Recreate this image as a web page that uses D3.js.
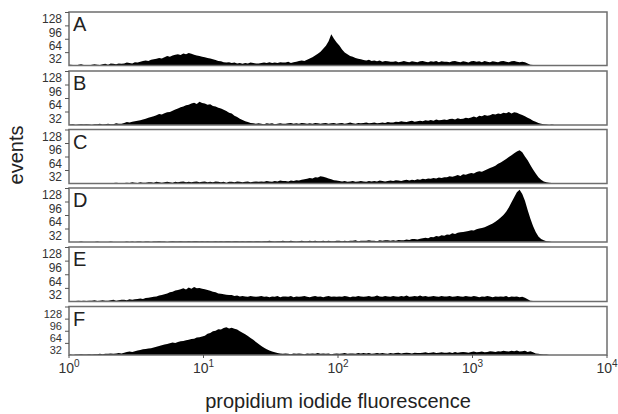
<!DOCTYPE html>
<html>
<head>
<meta charset="utf-8">
<script src="https://cdn.jsdelivr.net/npm/d3@7"></script>
<style>
  body { margin: 0; background: #fff; }
  svg { display: block; font-family: "Liberation Sans", Arial, sans-serif; }
</style>
</head>
<body>
<svg id="chart" width="618" height="414"></svg>
<script>
// histogram counts, 50 log-bins per decade from 10^0 to 10^4 (200 bins per panel)
const panelLabels = ["A", "B", "C", "D", "E", "F"];
const binsPerDecade = 50;

const countsA = [
  2,1,0,2,3,1,1,0,2,3, 2,1,3,4,2,5,4,3,5,4,
  5,7,6,5,8,7,9,11,12,11, 14,15,16,18,17,20,23,21,24,26,
  27,25,29,27,30,28,26,24,23,21, 20,18,17,15,13,11,10,8,7,8,
  6,7,5,6,4,6,5,7,6,5, 5,6,7,6,8,6,7,6,8,7,
  7,9,6,8,9,11,12,11,14,17, 20,24,28,33,40,47,58,75,64,55,
  48,38,31,27,23,21,18,16,15,13, 12,14,11,12,10,12,9,11,10,9,
  9,10,8,9,11,9,8,10,9,8, 10,11,9,8,10,9,11,8,10,9,
  9,8,10,11,9,8,10,9,7,10, 11,9,10,8,11,9,8,10,9,8,
  10,11,9,8,10,11,9,8,9,8, 5,2,1,0,1,0,0,0,0,0,
  0,0,0,0,0,0,0,0,0,0, 0,0,0,0,0,0,0,0,0,0];
const countsB = [
  1,2,0,1,2,1,2,1,0,2, 2,3,1,2,3,2,2,4,3,3,
  5,7,6,8,9,10,11,13,15,17, 19,21,23,26,25,28,30,31,34,37,
  39,42,44,47,48,51,53,50,55,52, 51,48,49,45,44,41,39,36,33,29,
  27,22,19,15,12,9,7,5,4,3, 4,3,2,4,3,4,2,3,4,3,
  3,4,5,3,4,3,5,4,3,4, 3,5,4,3,4,5,3,4,5,3,
  4,5,3,4,6,4,3,5,4,5, 6,4,5,6,4,5,6,5,7,6,
  6,8,7,9,8,7,9,10,8,9, 10,9,11,10,12,10,13,11,12,13,
  12,14,15,13,16,14,15,17,16,18, 20,18,22,21,24,22,23,26,25,27,
  26,29,28,31,27,30,29,26,24,21, 17,14,10,8,5,3,2,1,0,1,
  0,0,0,0,0,0,0,0,0,0, 0,0,0,0,0,0,0,0,0,0];
const countsC = [
  0,0,0,1,1,0,0,0,0,1, 1,0,0,1,1,0,1,2,1,1,
  1,2,1,3,2,1,3,2,2,3, 3,2,4,3,2,3,4,3,2,4,
  3,4,5,3,4,3,4,5,3,4, 5,3,4,3,5,4,3,4,2,4,
  4,3,5,4,3,4,5,3,4,5, 4,5,4,6,5,4,6,5,7,6,
  6,5,7,6,8,7,9,10,11,13, 12,15,14,17,16,14,12,10,8,7,
  6,5,6,4,5,6,4,5,6,5, 4,6,5,6,5,7,6,5,6,7,
  6,8,7,6,8,9,7,9,8,10, 9,11,10,12,11,13,12,14,13,15,
  15,17,16,18,20,18,22,21,23,25, 24,27,29,28,31,34,37,39,42,47,
  50,54,58,63,67,72,76,79,74,64, 55,44,33,24,15,9,5,3,2,1,
  1,0,0,0,0,0,0,0,0,0, 0,0,0,0,0,0,0,0,0,0];
const countsD = [
  0,0,0,0,1,0,0,0,0,0, 1,0,0,0,0,1,0,0,0,0,
  0,1,0,1,0,1,1,0,1,1, 0,1,1,2,1,1,0,1,2,1,
  1,2,1,1,2,1,2,2,1,2, 1,2,1,1,2,1,2,1,2,2,
  1,2,2,1,2,1,2,2,1,2, 2,1,2,2,3,2,1,2,2,3,
  2,2,3,2,1,2,3,2,2,3, 2,3,2,2,3,2,3,2,2,3,
  3,2,3,2,3,3,4,2,3,3, 3,4,3,3,2,4,3,4,4,3,
  4,3,5,4,4,6,5,7,7,6, 8,9,10,9,12,11,14,13,16,15,
  18,17,21,19,22,23,24,25,26,28, 27,30,32,33,35,38,41,44,48,53,
  58,64,72,82,94,106,118,124,114,98, 76,56,38,24,13,7,4,2,1,0,
  0,0,0,0,0,0,0,0,0,0, 0,0,0,0,0,0,0,0,0,0];
const countsE = [
  1,0,1,2,1,2,1,2,2,3, 1,2,3,2,2,3,4,2,3,4,
  4,3,5,4,5,6,7,6,8,9, 10,11,12,14,15,17,19,22,23,26,
  27,29,31,28,33,30,34,31,32,30, 29,27,25,23,22,19,18,17,16,15,
  15,13,14,12,13,12,11,13,12,11, 12,13,11,12,10,12,11,13,10,12,
  12,11,13,10,12,11,12,13,11,10, 12,13,11,12,10,12,13,11,12,11,
  12,11,13,12,10,12,11,13,12,11, 12,13,11,12,14,12,11,13,12,11,
  13,12,11,13,12,14,11,12,13,12, 14,12,13,11,12,13,12,11,13,12,
  12,13,11,12,13,12,11,13,12,11, 13,12,10,12,11,13,12,10,12,11,
  12,11,13,10,12,11,12,10,11,9, 5,2,1,0,1,0,0,0,0,0,
  0,0,0,0,0,0,0,0,0,0, 0,0,0,0,0,0,0,0,0,0];
const countsF = [
  1,0,1,1,2,1,1,2,1,2, 2,3,2,3,3,4,3,4,5,4,
  6,8,9,8,10,12,13,15,16,17, 18,20,22,24,26,28,29,31,33,32,
  34,36,37,39,40,42,43,46,47,49, 51,56,58,63,64,68,67,71,73,70,
  72,69,67,63,59,55,50,45,40,34, 29,24,19,15,12,9,7,5,4,3,
  4,3,2,4,3,4,3,2,4,3, 4,3,5,3,4,3,4,2,3,4,
  3,4,5,3,4,4,3,5,4,5, 4,5,3,4,5,4,5,4,3,5,
  4,5,6,4,5,6,5,4,6,5, 5,6,7,5,6,7,5,6,7,6,
  6,7,5,8,6,7,8,7,6,8, 9,7,8,9,7,8,10,9,8,10,
  9,11,10,9,11,10,12,9,10,11, 8,10,7,4,3,2,1,1,0,0,
  0,0,0,0,0,0,0,0,0,0, 0,0,0,0,0,0,0,0,0,0];

const allCounts = [countsA, countsB, countsC, countsD, countsE, countsF];
const yTicks = [32, 64, 96, 128];
const xTickExp = [0, 1, 2, 3, 4];

const svg = d3.select("#chart");
svg.append("rect").attr("width", 618).attr("height", 414).attr("fill", "#fff");

const x = d3.scaleLog().domain([1, 1e4]).range([69, 607]);

// panel boxes (top, bottom) - the last one is a bit shorter in the original
const boxes = [[12, 65.5], [71, 125], [129.5, 183.5], [188, 242], [247, 301.5], [306.5, 355]];

allCounts.forEach((counts, p) => {
  const [top, bottom] = boxes[p];
  const y = d3.scaleLinear().domain([0, 128]).range([bottom, top]);
  const g = svg.append("g");

  const pts = counts.map((c, i) => [Math.pow(10, (i + 0.5) / binsPerDecade), c]);
  pts.unshift([1, counts[0]]);
  pts.push([1e4, counts[counts.length - 1]]);

  const area = d3.area()
    .x(d => x(d[0]))
    .y0(y(0))
    .y1(d => y(d[1]));

  g.append("path")
    .datum(pts)
    .attr("d", area)
    .attr("fill", "#000");

  g.append("rect")
    .attr("x", x(1)).attr("y", top)
    .attr("width", x(1e4) - x(1)).attr("height", bottom - top)
    .attr("fill", "none")
    .attr("stroke", "#6e6e6e")
    .attr("stroke-width", 1.5);

  const yAxis = d3.axisLeft(y).tickValues(yTicks).tickSize(4).tickPadding(3);
  const ag = g.append("g").attr("transform", `translate(${x(1)},0)`).call(yAxis);
  ag.select(".domain").remove();
  ag.selectAll(".tick line").attr("stroke", "#555");
  ag.selectAll(".tick text")
    .attr("font-size", (bottom - top) < 52 ? 11 : 12)
    .attr("fill", "#333")
    .attr("font-family", "Liberation Sans, Arial, sans-serif")
    .attr("y", 7);

  g.append("text")
    .attr("x", 73).attr("y", top + 19)
    .attr("font-size", 20).attr("fill", "#222")
    .text(panelLabels[p]);
});

// x axis under the last panel
const lastBottom = boxes[boxes.length - 1][1];
const xg = svg.append("g").attr("transform", `translate(0,${lastBottom})`);
xg.selectAll("line.xt")
  .data(xTickExp)
  .join("line")
  .attr("x1", d => x(Math.pow(10, d))).attr("x2", d => x(Math.pow(10, d)))
  .attr("y1", 0).attr("y2", 3)
  .attr("stroke", "#555");
const lab = xg.selectAll("text.xl")
  .data(xTickExp)
  .join("text")
  .attr("x", d => x(Math.pow(10, d)))
  .attr("y", 18)
  .attr("text-anchor", "middle")
  .attr("font-size", 14)
  .attr("fill", "#333");
lab.append("tspan").text("10");
lab.append("tspan").attr("font-size", 10).attr("dy", -6).text(d => d);

svg.append("text")
  .attr("x", 338).attr("y", 408)
  .attr("text-anchor", "middle")
  .attr("font-size", 20).attr("fill", "#222")
  .text("propidium iodide fluorescence");

svg.append("text")
  .attr("transform", "translate(23,155) rotate(-90)")
  .attr("text-anchor", "middle")
  .attr("font-size", 20).attr("fill", "#222")
  .text("events");
</script>
</body>
</html>
